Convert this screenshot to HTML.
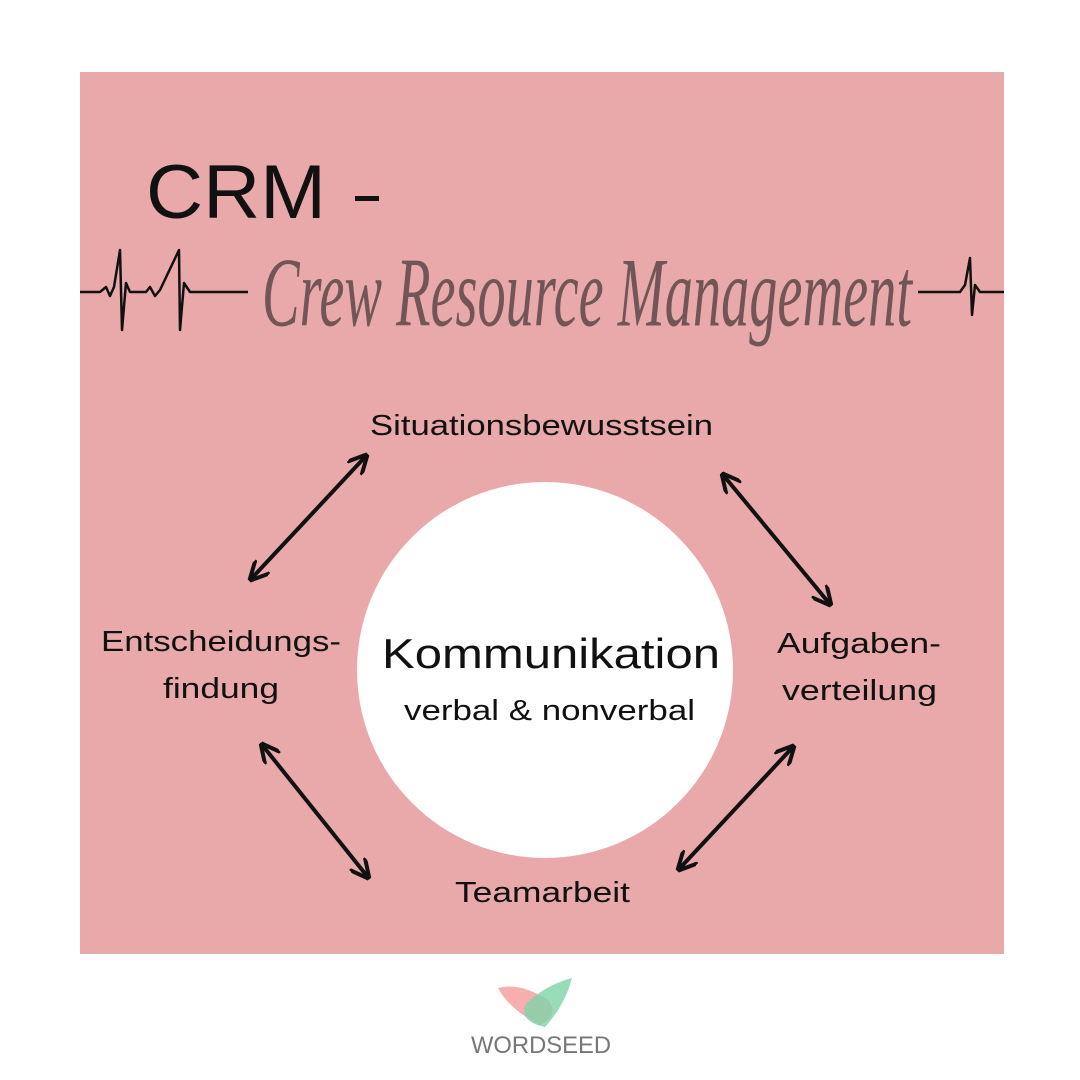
<!DOCTYPE html>
<html><head><meta charset="utf-8"><style>
html,body{margin:0;padding:0;background:#fff;width:1080px;height:1080px;overflow:hidden}
</style></head><body>
<svg width="1080" height="1080" viewBox="0 0 1080 1080" xmlns="http://www.w3.org/2000/svg" font-family="Liberation Sans, sans-serif">
<rect x="80" y="72" width="924" height="882" fill="#e9a9aa"/>
<text x="146" y="218" font-size="76" fill="#111" textLength="180" lengthAdjust="spacingAndGlyphs">CRM</text>
<rect x="355" y="196" width="24" height="5" fill="#111"/>
<g stroke="#111" stroke-width="2.5" fill="none" stroke-linejoin="round">
<polyline points="80,292 100,292 106,287 110,296 114,287 120,250 122,330 126,283 130,292 146,292 150,287 155,296 160,290 179,250 180,330 184,283 190,292 248,292"/>
<polyline points="918,292 960,292 965,285 970,258 972,315 975,285 980,292 1004,292"/>
</g>
<text x="262" y="318" font-family="Liberation Serif, serif" font-style="italic" font-size="86" fill="#111" fill-opacity="0.55" textLength="650" lengthAdjust="spacingAndGlyphs" transform="translate(0,-40) scale(1,1.15)">Crew Resource Management</text>
<circle cx="545" cy="670" r="188" fill="#fff"/>
<text x="382" y="668" font-size="42" fill="#111" textLength="338" lengthAdjust="spacingAndGlyphs">Kommunikation</text>
<text x="404" y="720" font-size="29" fill="#111" textLength="291" lengthAdjust="spacingAndGlyphs">verbal &amp; nonverbal</text>
<g font-size="29" fill="#111" lengthAdjust="spacingAndGlyphs">
<text x="370" y="435" textLength="343" lengthAdjust="spacingAndGlyphs">Situationsbewusstsein</text>
<text x="101" y="651" textLength="240" lengthAdjust="spacingAndGlyphs">Entscheidungs-</text>
<text x="163" y="698" textLength="116" lengthAdjust="spacingAndGlyphs">findung</text>
<text x="777" y="653" textLength="164" lengthAdjust="spacingAndGlyphs">Aufgaben-</text>
<text x="782" y="700" textLength="155" lengthAdjust="spacingAndGlyphs">verteilung</text>
<text x="455" y="902" textLength="175" lengthAdjust="spacingAndGlyphs">Teamarbeit</text>
</g>
<defs><marker id="a" viewBox="0 0 10 10" refX="8" refY="5" markerWidth="5" markerHeight="5" orient="auto-start-reverse"><path d="M0,0 L10,5 L0,10" fill="none" stroke="#111" stroke-width="2"/></marker></defs>
<g stroke="#111" stroke-width="4" marker-start="url(#a)" marker-end="url(#a)">
<line x1="252" y1="578" x2="365" y2="457"/>
<line x1="724" y1="476" x2="829" y2="603"/>
<line x1="263" y1="746" x2="367" y2="876"/>
<line x1="680" y1="868" x2="792" y2="748"/>
</g>
<path d="M498,988 Q520,982 548,1000 Q560,1015 540,1025 Q510,1010 498,988Z" fill="#f5a5a5" opacity="0.9"/>
<path d="M572,978 Q545,985 525,1005 Q520,1022 545,1027 Q565,1005 572,978Z" fill="#7ed3a8" opacity="0.8"/>
<text x="471" y="1053" font-size="24" fill="#777" textLength="140" lengthAdjust="spacingAndGlyphs">WORDSEED</text>
</svg>
</body></html>
